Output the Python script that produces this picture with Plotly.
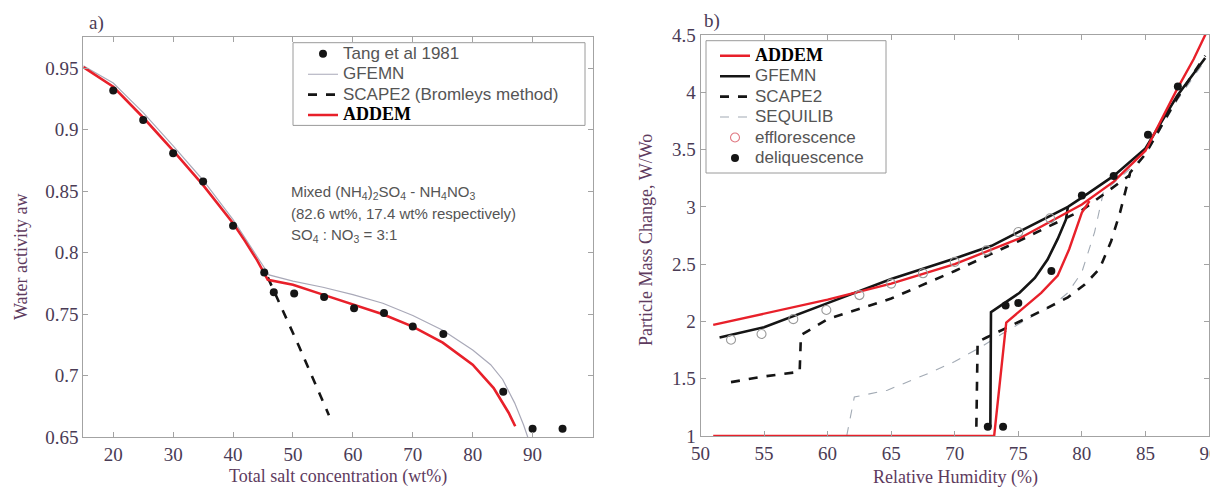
import plotly.graph_objects as go

# ---------------- panel a) data ----------------
tang_x = [20, 25, 30, 35, 40, 45.2, 46.8, 50.2, 55.2, 60.2, 65.2, 70, 75.1, 85.1, 90, 95]
tang_y = [0.932, 0.908, 0.881, 0.858, 0.822, 0.784, 0.768, 0.767, 0.764, 0.755, 0.751, 0.740, 0.734, 0.687, 0.657, 0.657]

addem_a_x = [15, 20, 25, 30, 35, 40, 42, 44, 45.8, 50, 55, 60, 65, 70, 75, 80, 83.5, 86, 87.1]
addem_a_y = [0.951, 0.935, 0.910, 0.883, 0.855, 0.824, 0.8095, 0.794, 0.778, 0.774, 0.766, 0.758, 0.750, 0.740, 0.727, 0.709, 0.690, 0.670, 0.659]

gfemn_a_x = [15, 20, 25, 30, 35, 40, 44, 46, 50, 55, 60, 65, 70, 75, 80, 83, 85, 87, 88.5, 89.2]
gfemn_a_y = [0.952, 0.938, 0.914, 0.887, 0.859, 0.827, 0.797, 0.782, 0.777, 0.772, 0.766, 0.759, 0.749, 0.737, 0.721, 0.709, 0.697, 0.678, 0.660, 0.650]

scape_a_x = [45.8, 51, 56]
scape_a_y = [0.780, 0.724, 0.668]

a_xticks = [20, 30, 40, 50, 60, 70, 80, 90]
a_yticks = [0.65, 0.7, 0.75, 0.8, 0.85, 0.9, 0.95]
a_yticklabels = ["0.65", "0.7", "0.75", "0.8", "0.85", "0.9", "0.95"]

# ---------------- panel b) data ----------------
addem_up_x = [51, 55, 60, 65, 70, 75, 80, 82.5, 85, 87.5, 88.8, 90]
addem_up_y = [1.97, 2.07, 2.19, 2.33, 2.50, 2.72, 3.02, 3.22, 3.49, 4.03, 4.29, 4.57]
addem_low_x = [51, 73.1, 74.05, 75.2, 76.8, 78.1, 79, 80, 80.6]
addem_low_y = [1.0, 1.0, 1.99, 2.10, 2.25, 2.40, 2.63, 2.95, 3.05]

gfemn_up_x = [51.5, 55, 60, 65, 70, 72.9, 75, 76.8, 78.9, 80, 82.5, 85, 87.5, 89.7]
gfemn_up_y = [1.86, 1.95, 2.16, 2.37, 2.55, 2.66, 2.78, 2.88, 3.00, 3.08, 3.27, 3.51, 3.97, 4.30]
gfemn_low_x = [72.8, 72.85, 73.9, 75.1, 76.3, 77.3, 78.1, 78.75, 78.9]
gfemn_low_y = [1.08, 2.08, 2.16, 2.25, 2.38, 2.54, 2.72, 2.89, 3.00]

scape_up_x = [52.4, 55, 57.8, 57.9, 60, 65, 70, 75, 80, 83.8]
scape_up_y = [1.47, 1.52, 1.56, 1.88, 2.02, 2.20, 2.44, 2.70, 2.97, 3.28]
scape_low_x = [71.7, 71.8, 72.5, 74.4, 76.8, 78.9, 80.2, 81.4, 82.3, 83, 83.8, 85, 87.5, 89.7]
scape_low_y = [1.08, 1.82, 1.86, 1.96, 2.09, 2.21, 2.32, 2.46, 2.70, 2.95, 3.30, 3.46, 3.95, 4.32]

sequ_x = [61.5, 62.1, 64.7, 68, 70, 72.1, 73.7, 75.7, 77.6, 78.9, 80, 81, 81.7, 85, 87.5, 89.7]
sequ_y = [1.0, 1.34, 1.40, 1.55, 1.65, 1.78, 1.89, 2.02, 2.13, 2.25, 2.43, 2.78, 3.13, 3.45, 3.93, 4.28]

efflo_x = [52.4, 54.8, 57.3, 59.9, 62.5, 65, 67.5, 70, 72.5, 75, 77.5]
efflo_y = [1.84, 1.89, 2.02, 2.10, 2.23, 2.33, 2.42, 2.52, 2.62, 2.78, 2.90]

deli_x = [72.6, 73.8, 74.0, 75.0, 77.6, 80.0, 82.5, 85.2, 87.55]
deli_y = [1.08, 1.08, 2.14, 2.16, 2.44, 3.10, 3.27, 3.63, 4.05]

b_xticks = [50, 55, 60, 65, 70, 75, 80, 85, 90]
b_yticks = [1, 1.5, 2, 2.5, 3, 3.5, 4, 4.5]

# ---------------- styling ----------------
W, H = 1218, 490
OFF = 8  # page body margin of the browser
RED = "#e8202a"
BLACK = "#151515"
TICKC = "#4a3b55"
TITLEC = "#5e3b5e"
FRAME = "#a3a3a3"
SERIF = "Liberation Serif"
SANS = "Liberation Sans"

def lg(txt):
    return '<span style="font-size:17px">' + txt + '</span>'

ADDEM_NAME = ('<span style="font-family:Liberation Serif;font-size:18px;color:#000000">'
              '<b>ADDEM</b></span>')

def px_x(p):
    return (p - OFF) / W

def px_y(p):
    return 1 - (p - OFF) / H

fig = go.Figure()

# ---- panel a traces ----
fig.add_trace(go.Scatter(x=gfemn_a_x, y=gfemn_a_y, mode="lines", name=lg("GFEMN"),
                         line=dict(color="#a9a9b8", width=1.2), legend="legend",
                         legendrank=2, xaxis="x", yaxis="y"))
fig.add_trace(go.Scatter(x=scape_a_x, y=scape_a_y, mode="lines", name=lg("SCAPE2 (Bromleys method)"),
                         line=dict(color=BLACK, width=2.6, dash="dash"), legend="legend",
                         legendrank=3, xaxis="x", yaxis="y"))
fig.add_trace(go.Scatter(x=addem_a_x, y=addem_a_y, mode="lines", name=ADDEM_NAME,
                         line=dict(color=RED, width=2.6), legend="legend",
                         legendrank=4, xaxis="x", yaxis="y"))
fig.add_trace(go.Scatter(x=tang_x, y=tang_y, mode="markers", name=lg("Tang et al 1981"),
                         marker=dict(color=BLACK, size=8), legend="legend",
                         legendrank=1, xaxis="x", yaxis="y", cliponaxis=False))

# ---- panel b traces ----
fig.add_trace(go.Scatter(x=sequ_x, y=sequ_y, mode="lines", name=lg("SEQUILIB"),
                         line=dict(color="#a2aab4", width=1.1, dash="dash"), legend="legend2",
                         legendrank=4, xaxis="x2", yaxis="y2"))
fig.add_trace(go.Scatter(x=scape_up_x, y=scape_up_y, mode="lines", name=lg("SCAPE2"),
                         line=dict(color=BLACK, width=2.6, dash="dash"), legend="legend2",
                         legendgroup="scape", legendrank=3, xaxis="x2", yaxis="y2"))
fig.add_trace(go.Scatter(x=scape_low_x, y=scape_low_y, mode="lines", name="SCAPE2 (deliquescence)",
                         line=dict(color=BLACK, width=2.6, dash="dash"), legend="legend2",
                         legendgroup="scape", showlegend=False, xaxis="x2", yaxis="y2"))
fig.add_trace(go.Scatter(x=gfemn_up_x, y=gfemn_up_y, mode="lines", name=lg("GFEMN"),
                         line=dict(color=BLACK, width=2.6), legend="legend2",
                         legendgroup="gfemn", legendrank=2, xaxis="x2", yaxis="y2"))
fig.add_trace(go.Scatter(x=gfemn_low_x, y=gfemn_low_y, mode="lines", name="GFEMN (deliquescence)",
                         line=dict(color=BLACK, width=2.6), legend="legend2",
                         legendgroup="gfemn", showlegend=False, xaxis="x2", yaxis="y2"))
fig.add_trace(go.Scatter(x=addem_up_x, y=addem_up_y, mode="lines", name=ADDEM_NAME,
                         line=dict(color=RED, width=2.4), legend="legend2",
                         legendgroup="addem", legendrank=1, xaxis="x2", yaxis="y2"))
fig.add_trace(go.Scatter(x=addem_low_x, y=addem_low_y, mode="lines", name="ADDEM (deliquescence)",
                         line=dict(color=RED, width=2.4), legend="legend2",
                         legendgroup="addem", showlegend=False, xaxis="x2", yaxis="y2"))
fig.add_trace(go.Scatter(x=efflo_x, y=efflo_y, mode="markers", name="efflorescence data",
                         marker=dict(symbol="circle-open", color="#9a9a9a", size=9, line=dict(width=1.1)),
                         legend="legend2", legendgroup="efflo", showlegend=False,
                         xaxis="x2", yaxis="y2"))
fig.add_trace(go.Scatter(x=[None], y=[None], mode="markers", name=lg("efflorescence"),
                         marker=dict(symbol="circle-open", color="#e07882", size=9, line=dict(width=1.1)),
                         legend="legend2", legendgroup="efflo", legendrank=5,
                         xaxis="x2", yaxis="y2"))
fig.add_trace(go.Scatter(x=deli_x, y=deli_y, mode="markers", name=lg("deliquescence"),
                         marker=dict(color=BLACK, size=8), legend="legend2",
                         legendrank=6, xaxis="x2", yaxis="y2", cliponaxis=False))

axis_common = dict(showline=True, linecolor=FRAME, linewidth=1, mirror="ticks",
                   ticks="inside", ticklen=5, tickcolor=FRAME, showgrid=False, zeroline=False,
                   automargin=False, ticklabeloverflow="allow",
                   tickfont=dict(family=SERIF, size=19, color=TICKC))

fig.update_layout(
    width=W, height=H,
    margin=dict(l=0, r=0, t=0, b=0, pad=0, autoexpand=False),
    paper_bgcolor="white", plot_bgcolor="white",
    showlegend=True,
    xaxis=dict(domain=[px_x(83.3), px_x(592.5)], range=[15, 100], tickvals=a_xticks,
               anchor="y", **axis_common),
    yaxis=dict(domain=[px_y(437.3), px_y(36.7)], range=[0.65, 0.9757], tickvals=a_yticks,
               ticktext=a_yticklabels, anchor="x", **axis_common),
    xaxis2=dict(domain=[px_x(700.5), px_x(1209)], range=[50, 90], tickvals=b_xticks,
                anchor="y2", **axis_common),
    yaxis2=dict(domain=[px_y(436), px_y(35)], range=[1, 4.5], tickvals=b_yticks,
                anchor="x2", **axis_common),
    legend=dict(x=px_x(303), y=px_y(38.6), xanchor="left", yanchor="top",
                bgcolor="rgba(0,0,0,0)", borderwidth=0, itemwidth=30,
                font=dict(family=SANS, size=13.4, color="#555555"), tracegroupgap=0),
    legend2=dict(x=px_x(715), y=px_y(40.6), xanchor="left", yanchor="top",
                 bgcolor="rgba(0,0,0,0)", borderwidth=0, itemwidth=30,
                 font=dict(family=SANS, size=13.4, color="#555555"), tracegroupgap=0),
)

# legend frames
for (x0, x1, y0, y1) in [(293, 585, 42.7, 125.4), (706, 886, 40.7, 173)]:
    fig.add_shape(type="rect", xref="paper", yref="paper",
                  x0=px_x(x0), x1=px_x(x1), y0=px_y(y1), y1=px_y(y0),
                  line=dict(color="#9a9a9a", width=1), fillcolor="white", layer="above")

ann_font = dict(family=SANS, size=15, color="#555555")
notes = [
    ("Mixed (NH<sub>4</sub>)<sub>2</sub>SO<sub>4</sub> - NH<sub>4</sub>NO<sub>3</sub>", 192),
    ("(82.6 wt%, 17.4 wt% respectively)", 214),
    ("SO<sub>4</sub> : NO<sub>3</sub> = 3:1", 235),
]
for txt, yp in notes:
    fig.add_annotation(text=txt, xref="paper", yref="paper", x=px_x(289), y=px_y(yp),
                       xanchor="left", yanchor="middle", showarrow=False, font=ann_font)

title_font = dict(family=SERIF, size=18, color=TITLEC)
fig.add_annotation(text="Total salt concentration (wt%)", xref="paper", yref="paper",
                   x=px_x(338), y=px_y(476), xanchor="center", yanchor="middle",
                   showarrow=False, font=title_font)
fig.add_annotation(text="Water activity aw", xref="paper", yref="paper",
                   x=px_x(21), y=px_y(257), xanchor="center", yanchor="middle",
                   textangle=-90, showarrow=False, font=title_font)
fig.add_annotation(text="Relative Humidity (%)", xref="paper", yref="paper",
                   x=px_x(955), y=px_y(477), xanchor="center", yanchor="middle",
                   showarrow=False, font=title_font)
fig.add_annotation(text="Particle Mass Change, W/Wo", xref="paper", yref="paper",
                   x=px_x(646), y=px_y(240), xanchor="center", yanchor="middle",
                   textangle=-90, showarrow=False, font=title_font)

panel_font = dict(family=SERIF, size=19, color=TICKC)
fig.add_annotation(text="a)", xref="paper", yref="paper", x=px_x(87), y=px_y(23),
                   xanchor="left", yanchor="middle", showarrow=False, font=panel_font)
fig.add_annotation(text="b)", xref="paper", yref="paper", x=px_x(702), y=px_y(21),
                   xanchor="left", yanchor="middle", showarrow=False, font=panel_font)

fig.write_html("out.html")
